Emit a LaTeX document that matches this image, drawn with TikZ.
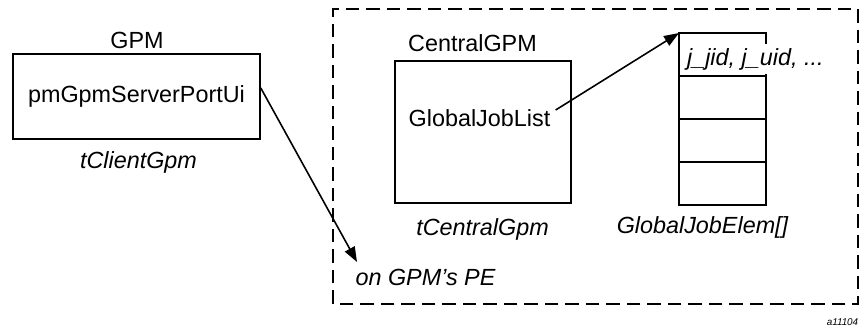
\documentclass[tikz,border=0pt]{standalone}
\usepackage{fontspec}
\setmainfont{Liberation Sans}
\usepackage{tikz}
\usetikzlibrary{arrows.meta}

\tikzset{
  box/.style={draw, line width=0.9pt, inner sep=0pt},
  cell/.style={draw, line width=1.1pt, minimum width=1.74cm, minimum height=0.86cm, anchor=north west, inner sep=0pt, outer sep=0pt},
  lbl/.style={font=\fontsize{13.3}{16}\selectfont},
  ilbl/.style={font=\fontsize{13.3}{16}\selectfont\itshape},
  ptr/.style={line width=0.9pt, -{Triangle[length=0.3cm,width=0.22cm]}}
}

\begin{document}
\begin{tikzpicture}
    \useasboundingbox (0,0) rectangle (17.22,6.7);
    % client side
    \node[box, minimum width=4.94cm, minimum height=1.7cm] (gpm) at (2.73,4.77) {};
    \node[lbl] (gpmname) at (2.74,5.9) {GPM};
    \node[lbl] (port) at (2.73,4.77) {pmGpmServerPortUi};
    \node[ilbl] (client) at (2.77,3.46) {tClientGpm};
    % central side
    \draw[line width=0.9pt, dash pattern=on 0.27cm off 0.14cm] (6.66,0.62) rectangle (17.16,6.52);
    \node[box, minimum width=3.52cm, minimum height=2.84cm] (central) at (9.66,4.06) {};
    \node[lbl] (centralname) at (9.45,5.84) {CentralGPM};
    \node[lbl, inner sep=0.1cm] (joblist) at (9.59,4.34) {GlobalJobList};
    \node[ilbl] (tcentral) at (9.65,2.12) {tCentralGpm};
    \foreach \i in {1,...,4}
        \node[cell] (elem\i) at (13.58,{6.04-0.86*(\i-1)}) {};
    \node[ilbl, fill=white, anchor=west, inner xsep=3pt, inner ysep=2.2pt] (jid) at (13.63,5.52) {j\_jid, j\_uid, ...};
    \node[ilbl] (elemname) at (14.05,2.16) {GlobalJobElem[]};
    \node[ilbl] (pe) at (8.51,1.16) {on GPM’s PE};
    \node[font=\fontsize{5.6}{7}\selectfont\itshape] (fig) at (16.85,0.26) {a11104};
    % pointers
    \coordinate (petip) at (7.14,1.46);
    \draw[ptr] ([yshift=0.17cm]gpm.east) -- (petip);
    \draw[ptr] ([yshift=0.16cm]joblist.east) -- (elem1.north west);
\end{tikzpicture}
\end{document}
